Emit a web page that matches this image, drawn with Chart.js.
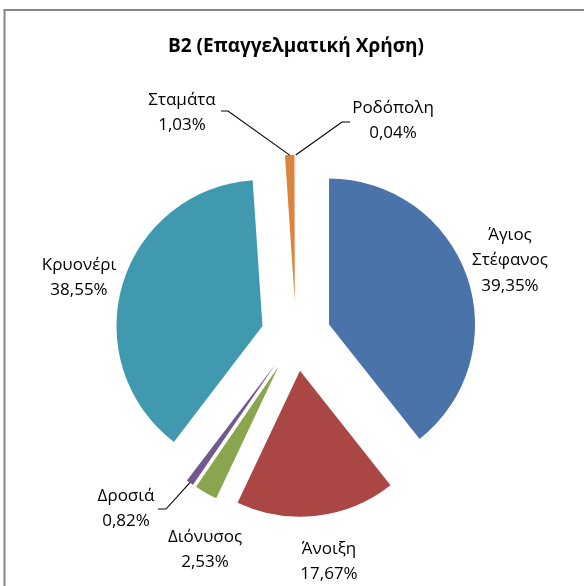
<!DOCTYPE html>
<html>
<head>
<meta charset="utf-8">
<script src="https://cdn.jsdelivr.net/npm/chart.js@4/dist/chart.umd.min.js"></script>
<style>
html,body{margin:0;padding:0;background:#fff;}
#wrap{position:relative;width:584px;height:586px;}
</style>
</head>
<body>
<div id="wrap"><canvas id="c" width="584" height="586"></canvas></div>
<script>
const title = "B2 (Επαγγελματική Χρήση)";
const categories = ["Άγιος Στέφανος", "Άνοιξη", "Διόνυσος", "Δροσιά", "Κρυονέρι", "Σταμάτα", "Ροδόπολη"];
const labelLines = [["Άγιος", "Στέφανος"], ["Άνοιξη"], ["Διόνυσος"], ["Δροσιά"], ["Κρυονέρι"], ["Σταμάτα"], ["Ροδόπολη"]];
const shares = [39.35, 17.67, 2.53, 0.82, 38.55, 1.03, 0.04];
const colors = ["#4A74A9", "#AA4744", "#89A54E", "#71588F", "#4199B0", "#DB843D", "#C9D6EA"];

// label layout: centre of the first text line, optional leader elbow
const labelLayout = [
  {x: 510, y: 235},
  {x: 329, y: 549},
  {x: 205, y: 537},
  {x: 126, y: 496, leader: [[158, 509], [166, 509]]},
  {x: 79,  y: 265},
  {x: 182, y: 100, leader: [[221, 111], [228, 111]]},
  {x: 393, y: 108, leader: [[350, 122], [342, 122]]}
];
const EXPLODE = 35;
const LINE_H = 25.5;
const FONT = "17px 'Open Sans', 'Noto Sans', sans-serif";

// explode each slice along its bisector by a fixed distance
const origDraw = Chart.ArcElement.prototype.draw;
Chart.ArcElement.prototype.draw = function(ctx, area) {
  const mid = (this.startAngle + this.endAngle) / 2;
  ctx.save();
  ctx.translate(Math.cos(mid) * EXPLODE, Math.sin(mid) * EXPLODE);
  origDraw.call(this, ctx, area);
  ctx.restore();
};

const frame = {
  id: 'frame',
  beforeDraw(chart) {
    const ctx = chart.ctx;
    ctx.save();
    ctx.strokeStyle = '#878787';
    ctx.lineWidth = 2;
    ctx.beginPath();
    ctx.moveTo(4.5, 600);
    ctx.lineTo(4.5, 10);
    ctx.lineTo(600, 10);
    ctx.stroke();
    ctx.restore();
  }
};

const labelsPlugin = {
  id: 'pieLabels',
  afterDraw(chart) {
    const ctx = chart.ctx;
    const meta = chart.getDatasetMeta(0);
    ctx.save();
    ctx.font = FONT;
    ctx.fillStyle = '#000';
    ctx.textAlign = 'center';
    ctx.textBaseline = 'middle';
    meta.data.forEach((arc, i) => {
      const lay = labelLayout[i];
      const lines = labelLines[i].concat([shares[i].toFixed(2).replace('.', ',') + '%']);
      lines.forEach((t, k) => ctx.fillText(t, lay.x, lay.y + k * LINE_H));
      if (lay.leader) {
        const mid = (arc.startAngle + arc.endAngle) / 2;
        const r = arc.outerRadius + EXPLODE;
        const ax = arc.x + Math.cos(mid) * r;
        const ay = arc.y + Math.sin(mid) * r;
        ctx.beginPath();
        ctx.strokeStyle = '#000';
        ctx.lineWidth = 1.1;
        ctx.moveTo(lay.leader[0][0], lay.leader[0][1]);
        for (let j = 1; j < lay.leader.length; j++) ctx.lineTo(lay.leader[j][0], lay.leader[j][1]);
        ctx.lineTo(ax, ay);
        ctx.stroke();
      }
    });
    ctx.restore();
  }
};

new Chart(document.getElementById('c'), {
  type: 'pie',
  data: {
    labels: categories,
    datasets: [{
      data: shares,
      backgroundColor: colors,
      borderWidth: 0,
      radius: 146
    }]
  },
  options: {
    responsive: false,
    animation: false,
    events: [],
    layout: {padding: {left: 10, right: 2, top: 0, bottom: 14}},
    plugins: {
      legend: {display: false},
      tooltip: {enabled: false},
      title: {
        display: true,
        text: title,
        color: '#000',
        font: {family: "'Open Sans', 'Noto Sans', sans-serif", size: 19, weight: 'bold', lineHeight: 1.2},
        padding: {top: 35.6, bottom: 41.6}
      }
    }
  },
  plugins: [frame, labelsPlugin]
});
</script>
</body>
</html>
